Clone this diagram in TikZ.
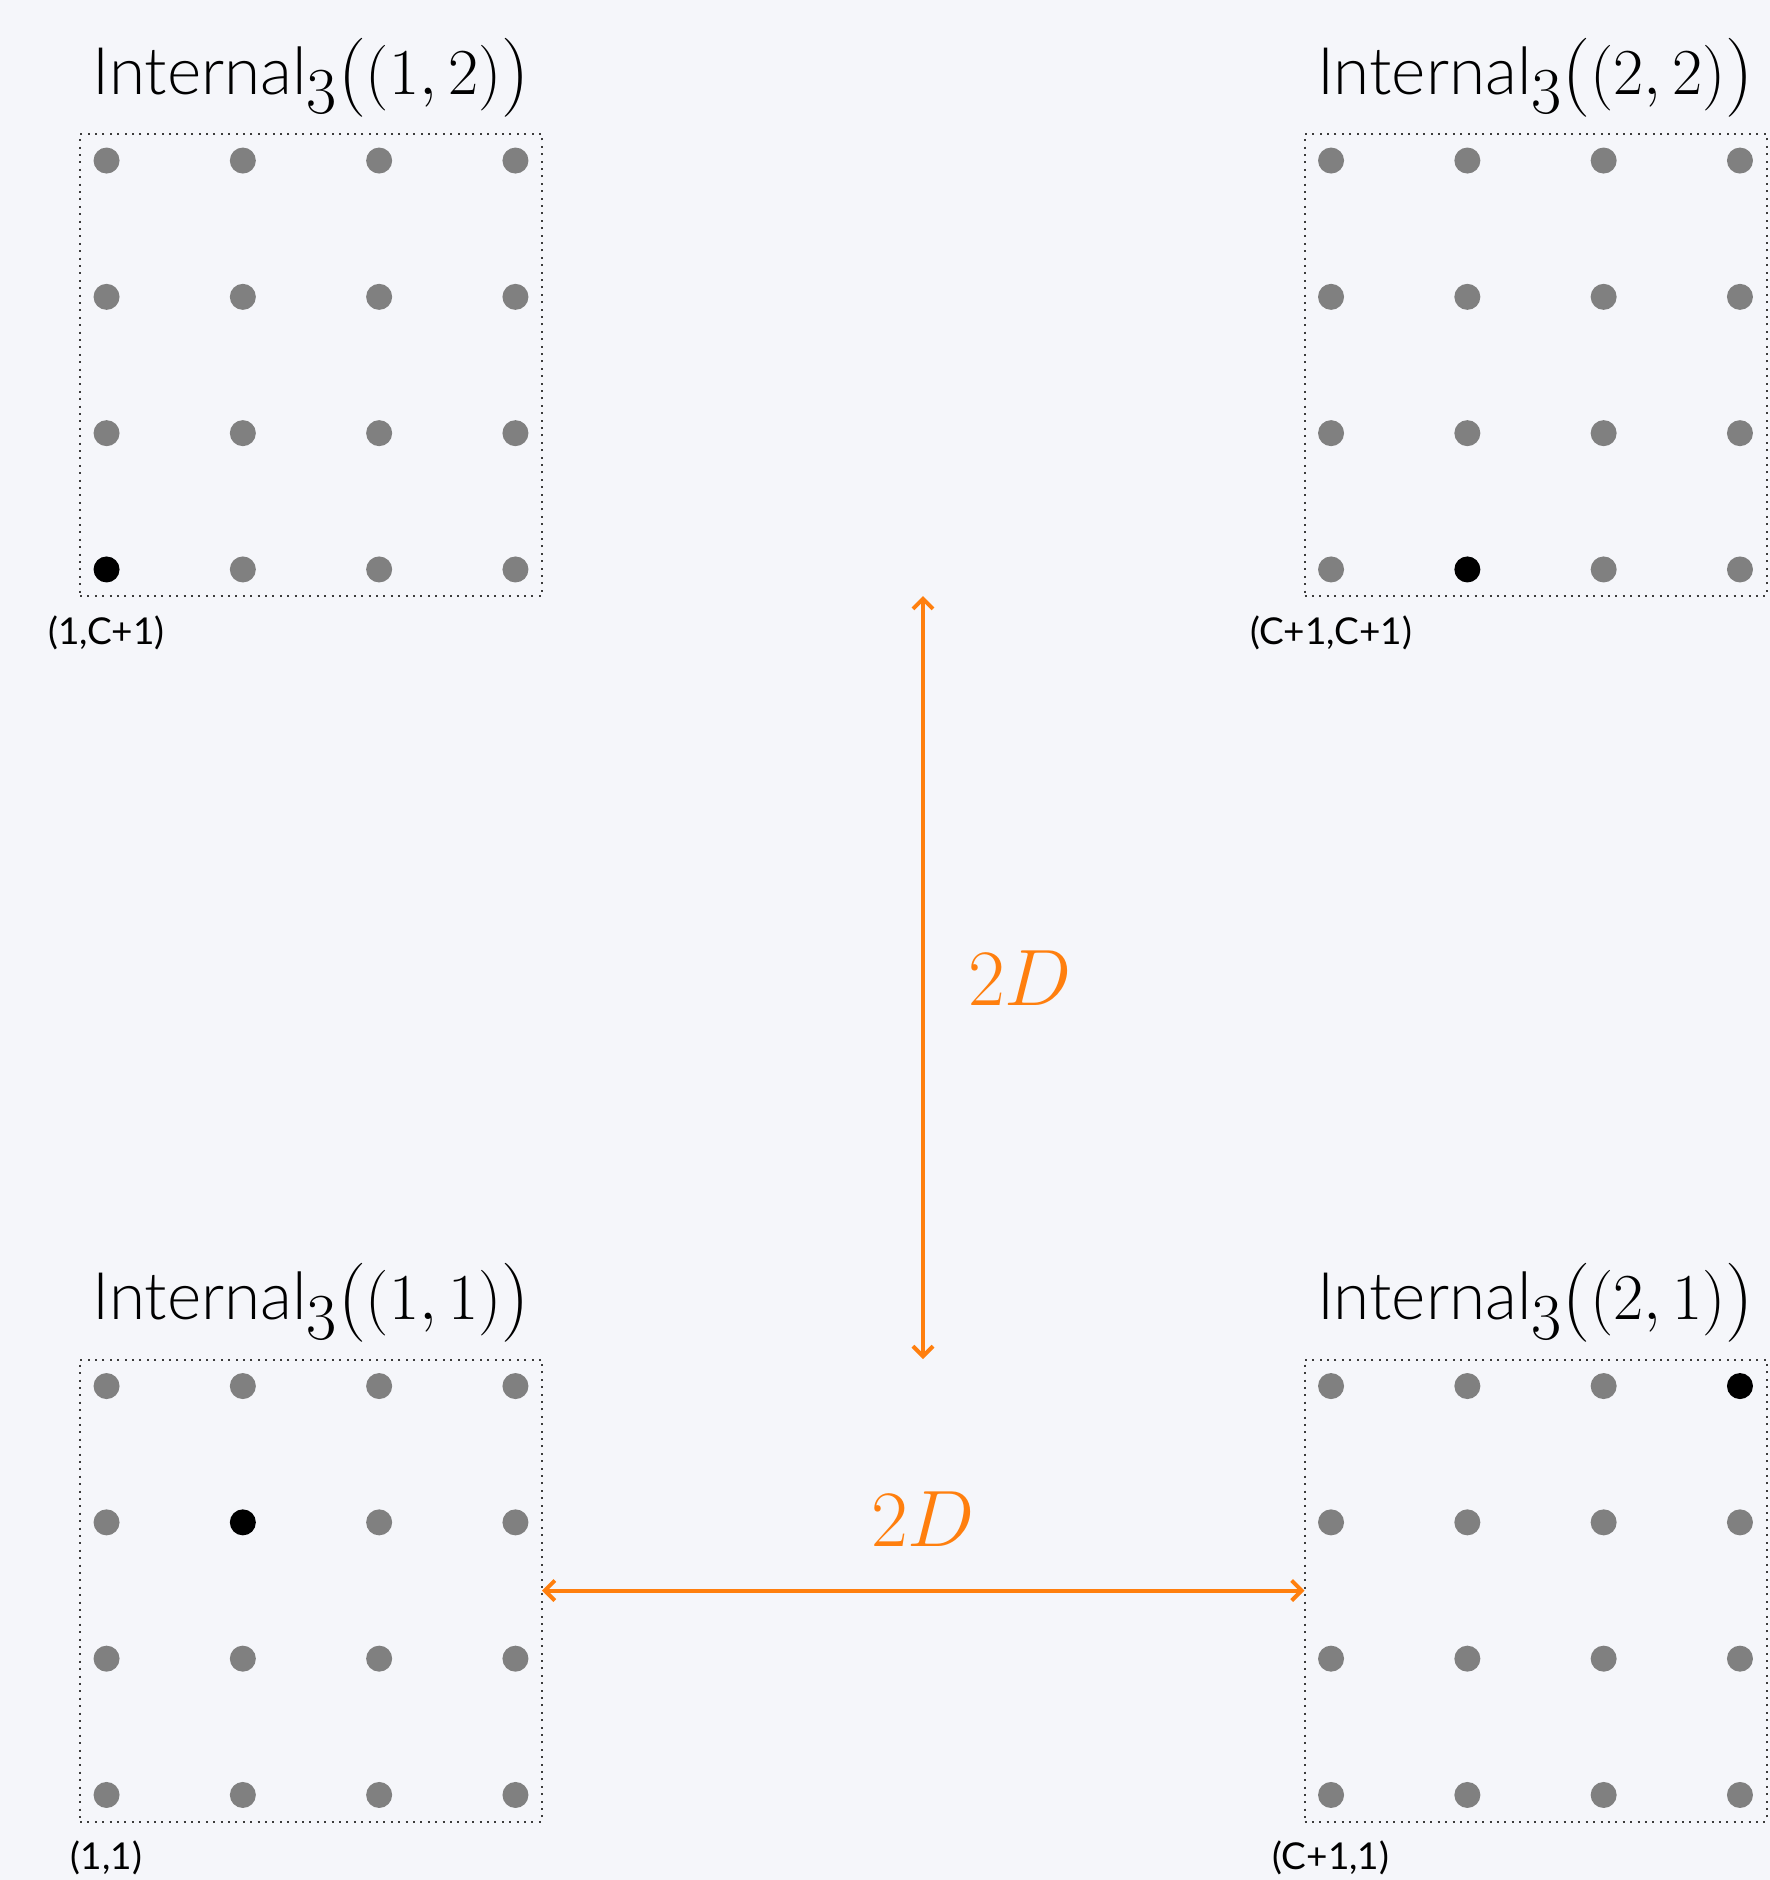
\RequirePackage{fix-cm}
\documentclass[tikz,border=0pt]{standalone}
\usepackage[no-math]{fontspec}
\setmainfont{Lato}
\newfontfamily\titlefont{Lato Light}
\usetikzlibrary{arrows.meta}
\definecolor{bgcol}{RGB}{245,246,250}
\definecolor{dotgray}{RGB}{128,128,128}
\definecolor{dimorange}{RGB}{255,127,14}
\definecolor{framegray}{RGB}{60,60,60}
% larger outer parentheses of the block titles
\newcommand{\outerL}{\mathopen{\raisebox{-1.7pt}{\fontsize{39.5}{40}\selectfont$($}}}
\newcommand{\outerR}{\mathclose{\raisebox{-1.7pt}{\fontsize{39.5}{40}\selectfont$)$}}}
\begin{document}
\begin{tikzpicture}[x=0.5pt,y=-0.5pt,
  gridbox/.style={draw=framegray,line width=1pt,dash pattern=on 1pt off 2.7pt,
    minimum size=231pt,inner sep=0pt,outer sep=0pt},
  boxtitle/.style={anchor=base,inner sep=0pt,font=\titlefont\fontsize{32.8}{38}\selectfont},
  cornerlabel/.style={anchor=base,inner sep=0pt,font=\fontsize{18.5}{22}\selectfont},
  dimarrow/.style={draw=dimorange,line width=2pt,
    {Straight Barb[length=5pt,width=10pt]}-{Straight Barb[length=5pt,width=10pt]}},
  dimlabel/.style={text=dimorange,inner sep=0pt,font=\fontsize{40}{48}\selectfont}]
\fill[bgcol] (0,0) rectangle (1770,1880);
\useasboundingbox (0,0) rectangle (1770,1880);

% the four blocks: name / centre / title / corner label / highlighted column,row
\foreach \nm/\cx/\cy/\ttl/\crn/\hc/\hr in {
  b12/311/365/{1,2}/{(1,C+1)}/1/4,
  b22/1535.5/365/{2,2}/{(C+1,C+1)}/2/4,
  b11/311/1590.5/{1,1}/{(1,1)}/2/2,
  b21/1535.5/1590.5/{2,1}/{(C+1,1)}/4/1}{
  \node[gridbox] (\nm) at (\cx,\cy) {};
  \node[boxtitle] (\nm-title) at (\cx,\cy-271)
    {Internal$_{\textstyle 3}\outerL(\ttl)\outerR$};
  \node[cornerlabel] (\nm-corner) at (\cx-204.5,\cy+279) {\crn};
  \foreach \i in {1,...,4}{
    \foreach \j in {1,...,4}{
      \pgfmathsetmacro{\dx}{(\i-2.5)*136.3}
      \pgfmathsetmacro{\dy}{(\j-2.5)*136.3}
      \ifnum\i=\hc\relax\ifnum\j=\hr\relax
        \def\dotcol{black}\else\def\dotcol{dotgray}\fi
      \else\def\dotcol{dotgray}\fi
      \fill[\dotcol] (\cx+\dx,\cy+\dy) circle (6.5pt);
    }
  }
}

% spacing between the blocks
\coordinate (vtop) at (923,596);
\coordinate (vbot) at (923,1359);
\draw[dimarrow] (vtop) -- (vbot);
\draw[dimarrow] (b11.east) -- (b21.west);
\node[dimlabel] (vlabel) at (1020,978) {$2D$};
\node[dimlabel] (hlabel) at (923,1519) {$2D$};
\end{tikzpicture}
\end{document}
